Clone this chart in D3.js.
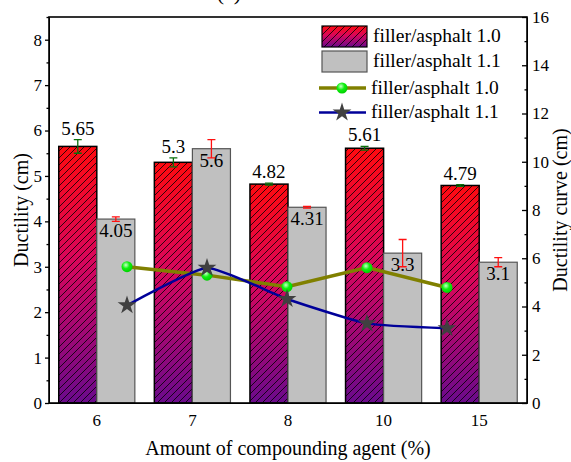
<html>
<head>
<script src="https://d3js.org/d3.v7.min.js"></script>
<style>
body { margin: 0; background: #fff; }
text { font-family: "Liberation Serif", "Times New Roman", serif; fill: #000; }
</style>
</head>
<body>
<svg width="571" height="462"></svg>
<script>
// data
var categories = ["6", "7", "8", "10", "15"];
var ductility10 = [5.65, 5.3, 4.82, 5.61, 4.79];
var ductility11 = [4.05, 5.6, 4.31, 3.3, 3.1];
var err10 = [0.15, 0.1, 0.02, 0.04, 0.02];
var err11 = [0.05, 0.2, 0.02, 0.3, 0.1];
var curve10 = [5.65, 5.3, 4.82, 5.61, 4.79];
var curve11 = [4.05, 5.6, 4.31, 3.3, 3.1];
var leftTicks = [0, 1, 2, 3, 4, 5, 6, 7, 8];
var rightTicks = [0, 2, 4, 6, 8, 10, 12, 14, 16];
var legendNames = ["filler/asphalt 1.0", "filler/asphalt 1.1"];

var svg = d3.select("svg");
var pLeft = 49, pRight = 527, pTop = 17, pBottom = 403;

var x = d3.scaleBand().domain(categories).range([pLeft, pRight]).padding(0);
var xLine = d3.scalePoint().domain(categories).range([127, 447]);
var y = d3.scaleLinear().domain([0, 8.5]).range([pBottom, pTop]);
var y2 = d3.scaleLinear().domain([0, 16]).range([pBottom, pTop]);
var barW = x.bandwidth() * 0.398;

var defs = svg.append("defs");
var grad = defs.append("linearGradient").attr("id", "redgrad")
    .attr("x1", 0).attr("y1", 0).attr("x2", 0).attr("y2", 1);
grad.append("stop").attr("offset", 0).attr("stop-color", "#ff0a10");
grad.append("stop").attr("offset", 0.45).attr("stop-color", "#d8065c");
grad.append("stop").attr("offset", 1).attr("stop-color", "#6a0a8c");

var hatch = defs.append("pattern").attr("id", "hatch")
    .attr("patternUnits", "userSpaceOnUse").attr("width", 7).attr("height", 7);
hatch.append("path").attr("d", "M0,7 L7,0 M-1,1 L1,-1 M6,8 L8,6")
    .attr("stroke", "#000").attr("stroke-width", 0.8);

var ball = defs.append("radialGradient").attr("id", "ball")
    .attr("cx", 0.4).attr("cy", 0.35).attr("r", 0.65);
ball.append("stop").attr("offset", 0).attr("stop-color", "#c8ffc8");
ball.append("stop").attr("offset", 0.5).attr("stop-color", "#10f010");
ball.append("stop").attr("offset", 1).attr("stop-color", "#00d000");

// red bars
var g10 = svg.append("g");
g10.selectAll("rect.fill").data(ductility10).enter().append("rect")
    .attr("x", function(d, i) { return x(categories[i]) + x.bandwidth() / 2 - barW; })
    .attr("y", function(d) { return y(d); })
    .attr("width", barW)
    .attr("height", function(d) { return y(0) - y(d); })
    .attr("fill", "url(#redgrad)");
g10.selectAll("rect.hatch").data(ductility10).enter().append("rect")
    .attr("x", function(d, i) { return x(categories[i]) + x.bandwidth() / 2 - barW; })
    .attr("y", function(d) { return y(d); })
    .attr("width", barW)
    .attr("height", function(d) { return y(0) - y(d); })
    .attr("fill", "url(#hatch)")
    .attr("stroke", "#000").attr("stroke-width", 1.5);

// grey bars
svg.append("g").selectAll("rect").data(ductility11).enter().append("rect")
    .attr("x", function(d, i) { return x(categories[i]) + x.bandwidth() / 2; })
    .attr("y", function(d) { return y(d); })
    .attr("width", barW)
    .attr("height", function(d) { return y(0) - y(d); })
    .attr("fill", "#c0c0c0")
    .attr("stroke", "#555").attr("stroke-width", 1.2);

// value labels
svg.append("g").selectAll("text").data(ductility10).enter().append("text")
    .attr("x", function(d, i) { return x(categories[i]) + x.bandwidth() / 2 - barW / 2; })
    .attr("y", function(d, i) { return y(d + err10[i]) - 5; })
    .attr("text-anchor", "middle").attr("font-size", 19)
    .text(function(d) { return d; });
svg.append("g").selectAll("text").data(ductility11).enter().append("text")
    .attr("x", function(d, i) { return x(categories[i]) + x.bandwidth() / 2 + barW / 2; })
    .attr("y", function(d) { return y(d) + 18; })
    .attr("text-anchor", "middle").attr("font-size", 19)
    .text(function(d) { return d; });

// error bars
function errorBars(vals, errs, offset, color) {
    var g = svg.append("g").attr("stroke", color).attr("stroke-width", 1.3).attr("fill", "none");
    vals.forEach(function(v, i) {
        var cx = x(categories[i]) + x.bandwidth() / 2 + offset;
        g.append("path").attr("d",
            "M" + cx + "," + y(v - errs[i]) + "V" + y(v + errs[i]) +
            "M" + (cx - 4) + "," + y(v + errs[i]) + "H" + (cx + 4) +
            "M" + (cx - 4) + "," + y(v - errs[i]) + "H" + (cx + 4));
    });
}
errorBars(ductility10, err10, -barW / 2, "#0a700a");
errorBars(ductility11, err11, barW / 2, "#ff1010");

// lines on right axis
var line10 = d3.line().x(function(d, i) { return xLine(categories[i]); }).y(function(d) { return y2(d); });
var line11 = d3.line().x(function(d, i) { return xLine(categories[i]); }).y(function(d) { return y2(d); })
    .curve(d3.curveCardinal.tension(0.5));
svg.append("path").datum(curve10).attr("d", line10)
    .attr("fill", "none").attr("stroke", "#808000").attr("stroke-width", 3.5);
svg.append("path").datum(curve11).attr("d", line11)
    .attr("fill", "none").attr("stroke", "#000099").attr("stroke-width", 2.5);
svg.append("g").selectAll("circle").data(curve10).enter().append("circle")
    .attr("cx", function(d, i) { return xLine(categories[i]); })
    .attr("cy", function(d) { return y2(d); })
    .attr("r", 5.5).attr("fill", "url(#ball)");
var star = d3.symbol().type(d3.symbolStar).size(110);
svg.append("g").selectAll("path").data(curve11).enter().append("path")
    .attr("d", star)
    .attr("transform", function(d, i) { return "translate(" + xLine(categories[i]) + "," + y2(d) + ")"; })
    .attr("fill", "#404040");

// axes
var yAxis = svg.append("g").attr("transform", "translate(" + pLeft + ",0)")
    .call(d3.axisLeft(y).tickValues(leftTicks).tickSizeInner(4).tickSizeOuter(0).tickPadding(3));
svg.append("g").attr("transform", "translate(" + pLeft + ",0)")
    .call(d3.axisLeft(y).tickValues(leftTicks.map(function(t) { return t + 0.5; })).tickSize(2.5).tickFormat(""))
    .select(".domain").remove();
var y2Axis = svg.append("g").attr("transform", "translate(" + pRight + ",0)")
    .call(d3.axisRight(y2).tickValues(rightTicks).tickSizeInner(-5).tickSizeOuter(0).tickPadding(5));
svg.append("g").attr("transform", "translate(" + pRight + ",0)")
    .call(d3.axisRight(y2).tickValues(rightTicks.slice(0, -1).map(function(t) { return t + 1; })).tickSize(-2.5).tickFormat(""))
    .select(".domain").remove();
var xAxis = svg.append("g").attr("transform", "translate(0," + pBottom + ")")
    .call(d3.axisBottom(x).tickSize(0).tickPadding(11));
[yAxis, y2Axis, xAxis].forEach(function(a) {
    a.attr("font-size", 17).attr("font-family", "Liberation Serif");
    a.selectAll("text").attr("fill", "#000");
});
svg.selectAll(".tick line").attr("stroke", "#000").attr("stroke-width", 1.3);

svg.append("rect").attr("x", pLeft).attr("y", pTop)
    .attr("width", pRight - pLeft).attr("height", pBottom - pTop)
    .attr("fill", "none").attr("stroke", "#000").attr("stroke-width", 1.6);

// titles
svg.append("text").attr("x", 229).attr("y", -0.5).attr("text-anchor", "middle")
    .attr("font-size", 22).text("(a)");
svg.append("text").attr("transform", "translate(28,210) rotate(-90)")
    .attr("text-anchor", "middle").attr("font-size", 20).text("Ductility (cm)");
svg.append("text").attr("transform", "translate(567,210) rotate(-90)")
    .attr("text-anchor", "middle").attr("font-size", 20).text("Ductility curve (cm)");
svg.append("text").attr("x", 288).attr("y", 455).attr("text-anchor", "middle")
    .attr("font-size", 20).text("Amount of compounding agent (%)");

// legend
var lg = svg.append("g");
lg.append("rect").attr("x", 322).attr("y", 26).attr("width", 45).attr("height", 21).attr("fill", "url(#redgrad)");
lg.append("rect").attr("x", 322).attr("y", 26).attr("width", 45).attr("height", 21)
    .attr("fill", "url(#hatch)").attr("stroke", "#000").attr("stroke-width", 1.2);
lg.append("rect").attr("x", 322).attr("y", 51).attr("width", 45).attr("height", 21)
    .attr("fill", "#c0c0c0").attr("stroke", "#555").attr("stroke-width", 1.2);
lg.append("line").attr("x1", 319).attr("x2", 366).attr("y1", 88).attr("y2", 88)
    .attr("stroke", "#808000").attr("stroke-width", 3.5);
lg.append("circle").attr("cx", 342).attr("cy", 88).attr("r", 5.5).attr("fill", "url(#ball)");
lg.append("line").attr("x1", 319).attr("x2", 366).attr("y1", 112.5).attr("y2", 112.5)
    .attr("stroke", "#000099").attr("stroke-width", 2.5);
lg.append("path").attr("d", star).attr("transform", "translate(342,112.5)").attr("fill", "#404040");
[[373, 42, 0], [373, 67, 1], [371, 94, 0], [371, 118, 1]].forEach(function(p) {
    lg.append("text").attr("x", p[0]).attr("y", p[1]).attr("font-size", 19.5).text(legendNames[p[2]]);
});
</script>
</body>
</html>
